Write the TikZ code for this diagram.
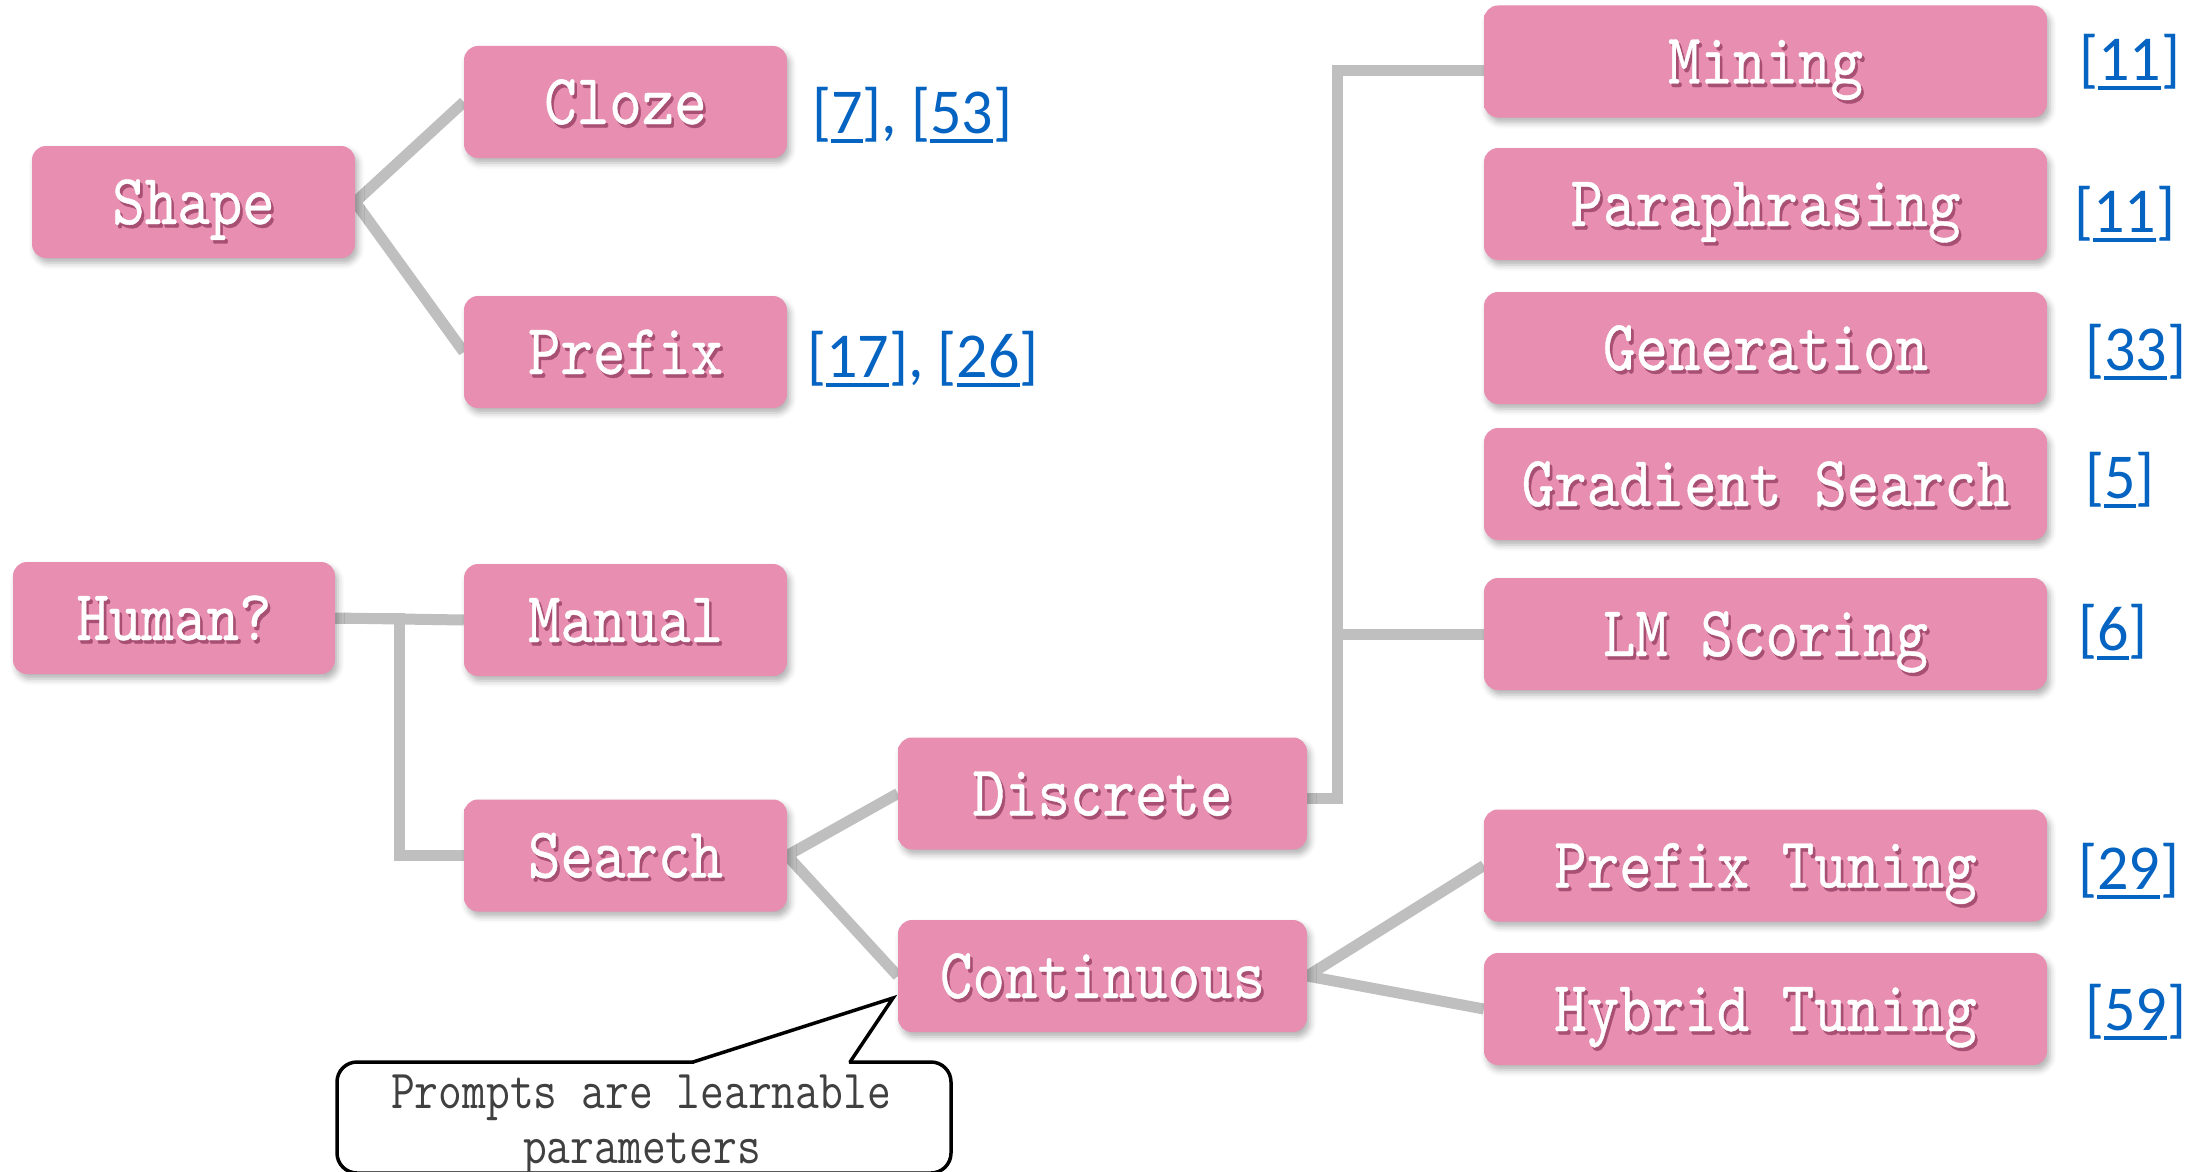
\documentclass[tikz,border=0pt]{standalone}
\usepackage{fontspec}
\usepackage{graphicx}
\usetikzlibrary{shadows.blur}
\newfontfamily\reffont{Carlito}
\newfontfamily\boxfont{lmmono10-regular.otf}[FakeBold=0.6]

\definecolor{boxpink}{RGB}{232,142,176}
\definecolor{boxpinktop}{RGB}{244,168,199}
\definecolor{txtshadow}{RGB}{168,80,116}
\definecolor{linkgray}{RGB}{191,191,191}
\definecolor{refblue}{RGB}{5,99,193}
\definecolor{notegray}{RGB}{64,64,64}

% flat pink with a thin light band along the top
\pgfdeclareverticalshading{boxshade}{100bp}{color(0bp)=(boxpink); color(80bp)=(boxpink); color(92bp)=(boxpinktop); color(100bp)=(boxpinktop)}

% condensed monospace lettering with a soft drop shadow
\newcommand\narrowtxt[2][0.86]{\scalebox{#1}[1]{#2}}
\newcommand\shadowtext[1]{\narrowtxt{\rlap{\hspace*{3pt}\raisebox{-3.5pt}{\textcolor{txtshadow}{#1}}}#1}}
% underlined citation number
\newcommand\refnum[1]{\setbox0\hbox{#1}\rlap{\rule[-9pt]{\wd0}{3.5pt}}\box0}

\pgfdeclarelayer{bg}
\pgfsetlayers{bg,main}

\tikzset{
  pinkbox/.style={rounded corners=14pt, shading=boxshade,
    draw=none, minimum height=112pt, inner sep=0pt, text=white,
    font=\boxfont\fontsize{72}{80}\selectfont, text height=50pt, text depth=6pt,
    blur shadow={shadow xshift=3pt, shadow yshift=-5pt, shadow blur radius=6pt, shadow opacity=30}},
  leftbox/.style={pinkbox, minimum width=323pt},
  midbox/.style={pinkbox, minimum width=409pt},
  rightbox/.style={pinkbox, minimum width=563pt},
  link/.style={draw=linkgray, line width=11pt, line join=miter,
    preaction={draw=black, opacity=0.16, transform canvas={shift={(1.5pt,-2.5pt)}}}},
  refs/.style={anchor=west, inner sep=0pt, text=refblue,
    font=\reffont\fontsize{64}{70}\selectfont},
  notetext/.style={anchor=base, inner sep=0pt, text=notegray,
    font=\ttfamily\fontsize{55}{60}\selectfont},
  callout/.style={draw=black, line width=3.5pt, fill=white}
}

\begin{document}
\begin{tikzpicture}[x=1pt, y=-1pt]
  \useasboundingbox (0,0) rectangle (2208,1172);

  % first level
  \node[leftbox] (shape) at (193.5,202) {\shadowtext{Shape}};
  \node[leftbox] (cloze)  at (625.5,102) {\shadowtext{Cloze}};
  \node[leftbox] (prefix) at (625.5,352) {\shadowtext{Prefix}};

  \node[leftbox, minimum width=322pt] (human) at (174,618) {\shadowtext{Human?}};
  \node[leftbox] (manual) at (625.5,620) {\shadowtext{Manual}};
  \node[leftbox] (search) at (625.5,855.5) {\shadowtext{Search}};

  % search branches
  \node[midbox] (discrete) at (1102.5,793.5) {\shadowtext{Discrete}};
  \node[midbox] (continuous) at (1102.5,976) {\shadowtext{Continuous}};

  % discrete methods
  \node[rightbox] (mining)   at (1765.5,61.5) {\shadowtext{Mining}};
  \node[rightbox] (para)     at (1765.5,204)  {\shadowtext{Paraphrasing}};
  \node[rightbox] (gen)      at (1765.5,348)  {\shadowtext{Generation}};
  \node[rightbox] (grad)     at (1765.5,484)  {\shadowtext{Gradient Search}};
  \node[rightbox] (lm)       at (1765.5,634)  {\shadowtext{LM Scoring}};

  % continuous methods
  \node[rightbox] (ptune)    at (1765.5,865.5) {\shadowtext{Prefix Tuning}};
  \node[rightbox] (htune)    at (1765.5,1009)  {\shadowtext{Hybrid Tuning}};

  % citations
  \node[refs] (r1) at (812,115)  {\narrowtxt[0.97]{[\refnum{7}], [\refnum{53}]}};
  \node[refs] (r2) at (807,359)  {\narrowtxt[0.97]{[\refnum{17}], [\refnum{26}]}};
  \node[refs] (r3) at (2079,62)  {\narrowtxt[0.97]{[\refnum{11}]}};
  \node[refs] (r4) at (2074,214) {\narrowtxt[0.97]{[\refnum{11}]}};
  \node[refs] (r5) at (2085,352) {\narrowtxt[0.97]{[\refnum{33}]}};
  \node[refs] (r6) at (2085,480) {\narrowtxt[0.97]{[\refnum{5}]}};
  \node[refs] (r7) at (2078,632) {\narrowtxt[0.97]{[\refnum{6}]}};
  \node[refs] (r8) at (2078,871) {\narrowtxt[0.97]{[\refnum{29}]}};
  \node[refs] (r9) at (2085,1012) {\narrowtxt[0.97]{[\refnum{59}]}};

  % connectors, kept behind the boxes
  \begin{pgfonlayer}{bg}
    \draw[link] (cloze.west) -- (shape.east) -- (prefix.west);
    \draw[link] (human.east) -- (manual.west);
    \draw[link] (human.east) -- ++(64,0) |- (search.west);
    \draw[link] (discrete.west) -- (search.east) -- (continuous.west);
    \draw[link] ([yshift=-5pt]discrete.east) -- ++(30,0) |- ([yshift=-9pt]mining.west);
    \draw[link] ([yshift=-5pt]discrete.east) -- ++(30,0) |- (lm.west);
    \draw[link] (ptune.west) -- (continuous.east) -- (htune.west);
  \end{pgfonlayer}

  % callout
  \coordinate (tip) at (893,998);
  \draw[callout, rounded corners=20pt] (337,1062) rectangle (951,1173);
  \fill[white] (694,1065) -- (694,1062) -- (tip) -- (849,1062) -- (849,1065) -- cycle;
  \draw[draw=black, line width=3.5pt, line join=miter, line cap=round] (693,1062) -- (tip) -- (850,1062);
  \node[notetext] (note1) at (641,1108) {\narrowtxt[0.84]{Prompts are learnable}};
  \node[notetext] (note2) at (642,1163) {\narrowtxt[0.84]{parameters}};
\end{tikzpicture}
\end{document}
